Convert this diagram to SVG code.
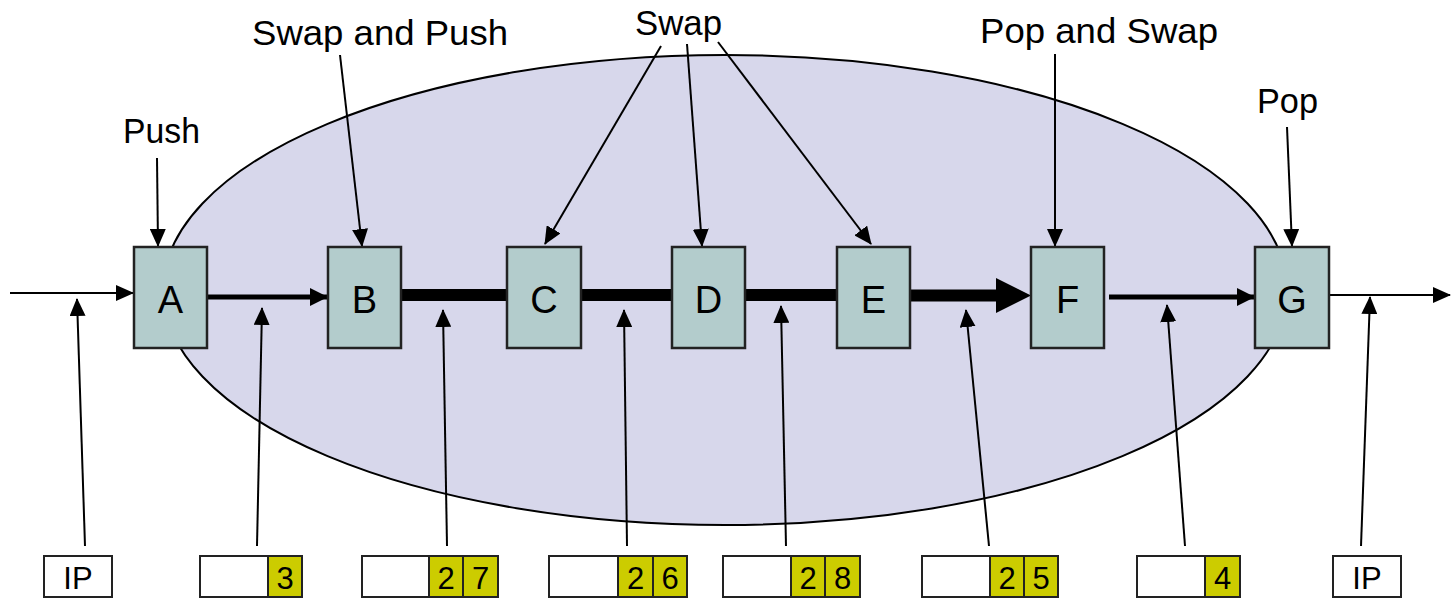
<svg xmlns="http://www.w3.org/2000/svg" width="1451" height="599" viewBox="0 0 1451 599">
<style>
text{font-family:"Liberation Sans",Arial,sans-serif;fill:#000}
.lbl{font-size:35px}
.nd rect{fill:#B3CCCC;stroke:#222;stroke-width:2.5}
.nd text{font-size:38px;text-anchor:middle}
.st rect{stroke:#222;stroke-width:2}
.w{fill:#fff}
.y{fill:#CCCC00}
.st text{font-size:31px;text-anchor:middle}
.thin{stroke:#000;stroke-width:2;fill:none;marker-end:url(#ah)}
.thick{stroke:#000;stroke-width:12;fill:none}
</style>
<defs>
<marker id="ah" markerUnits="userSpaceOnUse" markerWidth="19" markerHeight="16" refX="17" refY="8" orient="auto"><path d="M0,0 L18,8 L0,16 z" fill="#000"/></marker>
<marker id="am" markerUnits="userSpaceOnUse" markerWidth="19" markerHeight="18" refX="18" refY="9" orient="auto"><path d="M0,0 L18,9 L0,18 z" fill="#000"/></marker>
<marker id="ab" markerUnits="userSpaceOnUse" markerWidth="36" markerHeight="36" refX="0" refY="17.5" orient="auto"><path d="M0,0 L35,17.5 L0,35 z" fill="#000"/></marker>
</defs>
<ellipse id="region" cx="725" cy="290" rx="562" ry="235" fill="#D7D7EB" stroke="#000" stroke-width="2"/>
<g id="connectors">
<line x1="10" y1="293" x2="133" y2="293" class="thin"/>
<line x1="207" y1="297" x2="328" y2="297" stroke="#000" stroke-width="5" marker-end="url(#am)"/>
<line x1="401" y1="295" x2="507" y2="295" class="thick"/>
<line x1="581" y1="295" x2="672" y2="295" class="thick"/>
<line x1="745" y1="295" x2="837" y2="295" class="thick"/>
<line x1="910" y1="295.5" x2="996" y2="295.5" class="thick" marker-end="url(#ab)"/>
<line x1="1109" y1="297" x2="1255" y2="297" stroke="#000" stroke-width="5" marker-end="url(#am)"/>
<line x1="1330" y1="295" x2="1450" y2="295" class="thin"/>
<line x1="157" y1="158" x2="158" y2="246" class="thin"/>
<line x1="340" y1="55" x2="362" y2="246" class="thin"/>
<line x1="661" y1="46" x2="545" y2="244" class="thin"/>
<line x1="687" y1="44" x2="702" y2="246" class="thin"/>
<line x1="718" y1="42" x2="871" y2="244" class="thin"/>
<line x1="1055" y1="54" x2="1055" y2="246" class="thin"/>
<line x1="1287" y1="127" x2="1292" y2="246" class="thin"/>
<line x1="85" y1="546" x2="77" y2="299" class="thin"/>
<line x1="257" y1="546" x2="262" y2="308" class="thin"/>
<line x1="447" y1="546" x2="443" y2="310" class="thin"/>
<line x1="627" y1="546" x2="624" y2="310" class="thin"/>
<line x1="786" y1="546" x2="781" y2="306" class="thin"/>
<line x1="989" y1="546" x2="966" y2="310" class="thin"/>
<line x1="1185" y1="546" x2="1167" y2="305" class="thin"/>
<line x1="1361" y1="546" x2="1370" y2="297" class="thin"/>
</g>
<g id="labels">
<text class="lbl" x="123" y="143" textLength="77" lengthAdjust="spacingAndGlyphs">Push</text>
<text class="lbl" x="252" y="45" textLength="256" lengthAdjust="spacingAndGlyphs">Swap and Push</text>
<text class="lbl" x="635" y="35" textLength="87" lengthAdjust="spacingAndGlyphs">Swap</text>
<text class="lbl" x="980" y="43" textLength="238" lengthAdjust="spacingAndGlyphs">Pop and Swap</text>
<text class="lbl" x="1257" y="113" textLength="61" lengthAdjust="spacingAndGlyphs">Pop</text>
</g>
<g id="node-A" class="nd"><rect x="134" y="247" width="73" height="101"/><text x="170.5" y="313">A</text></g>
<g id="node-B" class="nd"><rect x="328" y="247" width="73" height="101"/><text x="364.5" y="313">B</text></g>
<g id="node-C" class="nd"><rect x="507" y="247" width="74" height="101"/><text x="544" y="313">C</text></g>
<g id="node-D" class="nd"><rect x="672" y="247" width="73" height="101"/><text x="708.5" y="313">D</text></g>
<g id="node-E" class="nd"><rect x="837" y="247" width="73" height="101"/><text x="873.5" y="313">E</text></g>
<g id="node-F" class="nd"><rect x="1031" y="247" width="73" height="101"/><text x="1067.5" y="313">F</text></g>
<g id="node-G" class="nd"><rect x="1255" y="247" width="74" height="101"/><text x="1292" y="313">G</text></g>
<g id="stack-ip-in" class="st"><rect class="w" x="44" y="556" width="68" height="41"/><text x="78" y="589">IP</text></g>
<g id="stack-3" class="st"><rect class="w" x="200" y="556" width="68" height="41"/><rect class="y" x="268" y="556" width="34" height="41"/><text x="285" y="589">3</text></g>
<g id="stack-27" class="st"><rect class="w" x="362" y="556" width="67" height="41"/><rect class="y" x="429" y="556" width="34" height="41"/><rect class="y" x="463" y="556" width="35" height="41"/><text x="446" y="589">2</text><text x="480.5" y="589">7</text></g>
<g id="stack-26" class="st"><rect class="w" x="549" y="556" width="69" height="41"/><rect class="y" x="618" y="556" width="35" height="41"/><rect class="y" x="653" y="556" width="34" height="41"/><text x="635.5" y="589">2</text><text x="670" y="589">6</text></g>
<g id="stack-28" class="st"><rect class="w" x="723" y="556" width="68" height="41"/><rect class="y" x="791" y="556" width="34" height="41"/><rect class="y" x="825" y="556" width="35" height="41"/><text x="808" y="589">2</text><text x="842.5" y="589">8</text></g>
<g id="stack-25" class="st"><rect class="w" x="922" y="556" width="68" height="41"/><rect class="y" x="990" y="556" width="34" height="41"/><rect class="y" x="1024" y="556" width="34" height="41"/><text x="1007" y="589">2</text><text x="1041" y="589">5</text></g>
<g id="stack-4" class="st"><rect class="w" x="1137" y="556" width="68" height="41"/><rect class="y" x="1205" y="556" width="35" height="41"/><text x="1222.5" y="589">4</text></g>
<g id="stack-ip-out" class="st"><rect class="w" x="1333" y="556" width="68" height="41"/><text x="1367" y="589">IP</text></g>
</svg>
